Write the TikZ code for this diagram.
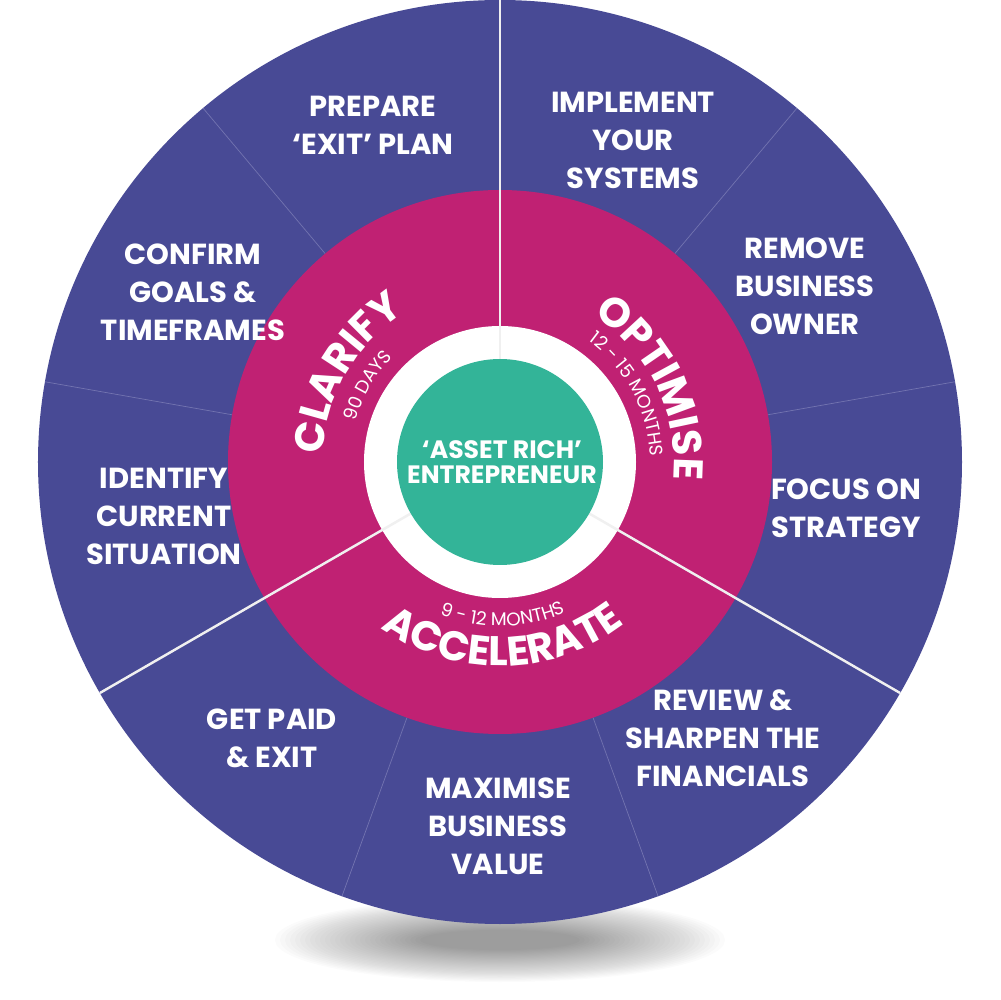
\documentclass[tikz,border=0pt]{standalone}
\usepackage{fontspec}
\setmainfont{Poppins}
\usetikzlibrary{decorations.text}
\definecolor{wheelblue}{HTML}{484A95}
\definecolor{wheelpink}{HTML}{C02173}
\definecolor{wheelgreen}{HTML}{33B498}
\definecolor{wheelrule}{HTML}{7374B0}
\newcommand\phasefont{\bfseries\fontsize{23.5}{23.5}\selectfont}
\newcommand\spanfont{\fontsize{10.5}{10.5}\selectfont}
\tikzset{
  steptext/.style={text=white, align=center, inner sep=0pt,
    font=\bfseries\fontsize{16.5}{21.6}\selectfont},
  coretext/.style={text=white, align=center, inner sep=0pt,
    font=\bfseries\fontsize{14.3}{14.6}\selectfont},
  thinline/.style={wheelrule, line width=0.4pt},
  phaseline/.style={black!6, line width=1.4pt},
}
\begin{document}
\begin{tikzpicture}[x=0.02cm, y=0.02cm]
    \def\rout{462}
    \def\rpink{272}
    \def\rwhite{136}
    \def\rcore{103}
    \useasboundingbox (-500,-538) rectangle (500,462);
    % shadow under the wheel
    \foreach \k in {0,...,29}
      \fill[black, opacity=0.016] (0,-478) ellipse [x radius={225-5*\k}, y radius={42-1.1*\k}];
    % rings
    \fill[wheelblue] (0,0) circle [radius=\rout];
    \foreach \a in {10,50,130,170,250,290}
      \draw[thinline] (\a:\rpink) -- (\a:\rout);
    \fill[wheelpink] (0,0) circle [radius=\rpink];
    \fill[white] (0,0) circle [radius=\rwhite];
    \foreach \a in {90,210,330}
      \draw[phaseline] (\a:\rcore) -- (\a:\rout);
    \fill[wheelgreen] (0,0) circle [radius=\rcore];
    \node[coretext] (C0) at (2,0) {‘ASSET RICH’\\ENTREPRENEUR};
    % phase names
    \path[decorate, decoration={text along path, text align=center, text color=white,
      text={|\phasefont|CLARIFY}}] (200:177) arc [start angle=200, end angle=100, radius=177];
    \path[decorate, decoration={text along path, text align=center, text color=white,
      text={|\spanfont|90 DAYS}}] (200:150) arc [start angle=200, end angle=100, radius=150];
    \path[decorate, decoration={text along path, text align=center, text color=white,
      text={|\phasefont|OPTIMISE}}] (76:174) arc [start angle=76, end angle=-24, radius=174];
    \path[decorate, decoration={text along path, text align=center, text color=white,
      text={|\spanfont|12 - 15 MONTHS}}] (78:150) arc [start angle=78, end angle=-22, radius=150];
    \path[decorate, decoration={text along path, text align=center, text color=white,
      text={|\phasefont|ACCELERATE}}] (215:204) arc [start angle=215, end angle=327, radius=204];
    \path[decorate, decoration={text along path, text align=center, text color=white,
      text={|\spanfont|9 - 12 MONTHS}}] (215:164) arc [start angle=215, end angle=327, radius=164];
    % steps
    \node[steptext] (S1_1) at (-336,-54) {IDENTIFY\\CURRENT\\SITUATION};
    \node[steptext] (S1_2) at (-307,170) {CONFIRM\\GOALS \&\\TIMEFRAMES};
    \node[steptext] (S1_3) at (-127,337) {PREPARE\\‘EXIT’ PLAN};
    \node[steptext] (S2_1) at (133,322) {IMPLEMENT\\YOUR\\SYSTEMS};
    \node[steptext] (S2_2) at (305,176) {REMOVE\\BUSINESS\\OWNER};
    \node[steptext] (S2_3) at (346,-46) {FOCUS ON\\STRATEGY};
    \node[steptext] (S3_1) at (223,-276) {REVIEW \&\\SHARPEN THE\\FINANCIALS};
    \node[steptext] (S3_2) at (-2,-364) {MAXIMISE\\BUSINESS\\VALUE};
    \node[steptext] (S3_3) at (-228,-276) {GET PAID\\\& EXIT};
  \end{tikzpicture}
\end{document}
